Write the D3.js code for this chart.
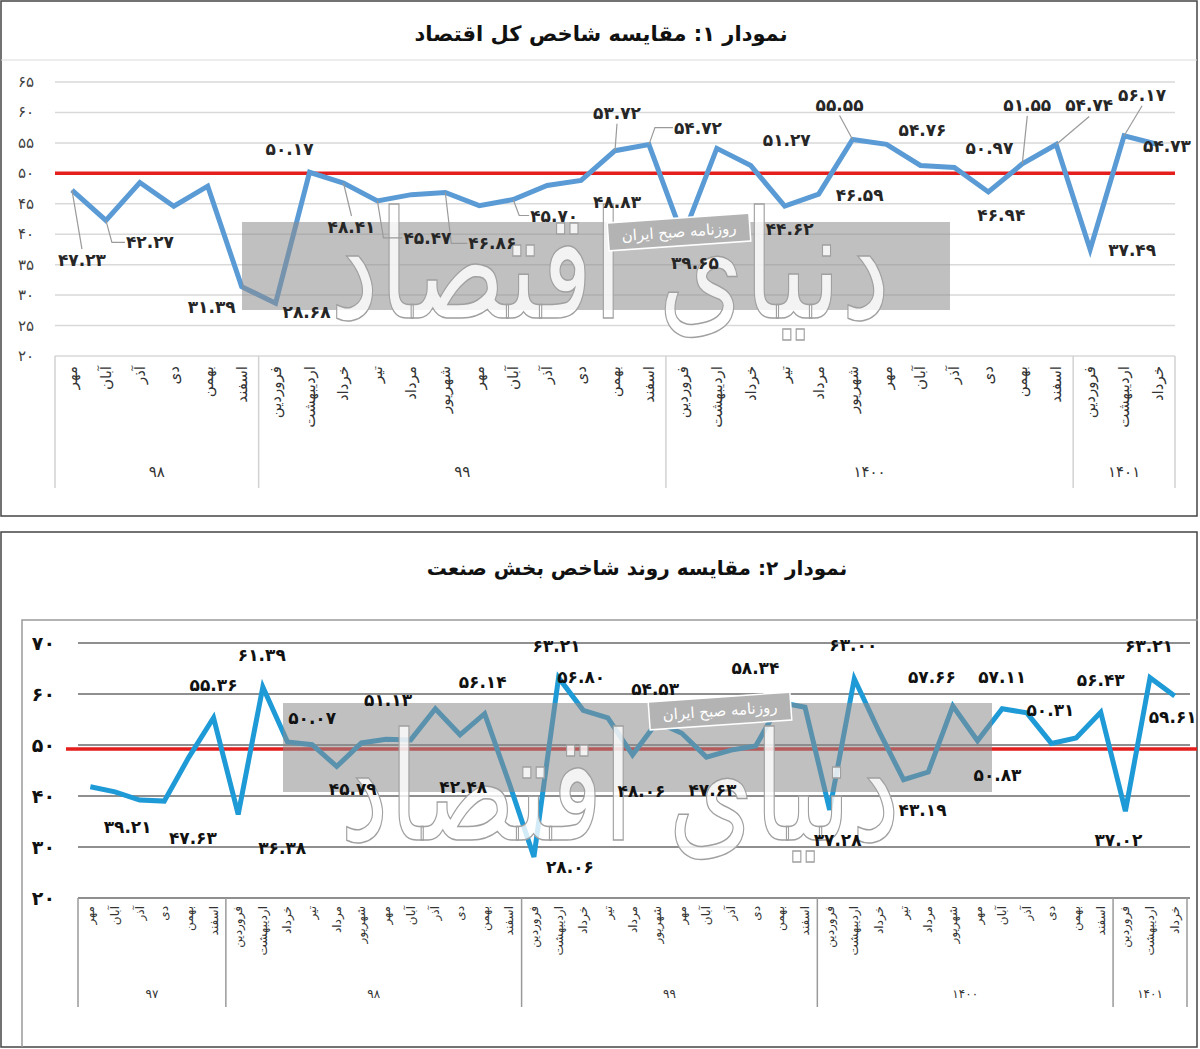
<!DOCTYPE html>
<html>
<head>
<meta charset="utf-8">
<script src="https://cdn.jsdelivr.net/npm/d3@7"></script>
<style>
  body { margin: 0; background: #fff; }
  svg text { font-family: "DejaVu Sans", sans-serif; }
</style>
</head>
<body>
<svg id="chart" width="1200" height="1049"></svg>
<script>
// month names used on the category axis
var monthsAutumnWinter = ['مهر', 'آبان', 'آذر', 'دی', 'بهمن', 'اسفند'];
var monthsFullYear = ['فروردین', 'اردیبهشت', 'خرداد', 'تیر', 'مرداد', 'شهریور', 'مهر', 'آبان', 'آذر', 'دی', 'بهمن', 'اسفند'];
var monthsSpring = ['فروردین', 'اردیبهشت', 'خرداد'];

// chart 1: whole economy PMI
var econTitle = 'نمودار ۱: مقایسه شاخص کل اقتصاد';
var econYears = ['۹۸', '۹۹', '۱۴۰۰', '۱۴۰۱'];
var econYearMonths = [monthsAutumnWinter, monthsFullYear, monthsFullYear, monthsSpring];
var econTicks = [20, 25, 30, 35, 40, 45, 50, 55, 60, 65];
var econValues = [47.23, 42.27, 48.5, 44.6, 47.9, 31.39,
  28.68, 50.17, 48.41, 45.47, 46.5, 46.86, 44.7, 45.70, 48.0, 48.83, 53.72, 54.72,
  39.65, 54.1, 51.27, 44.62, 46.59, 55.55, 54.76, 51.3, 50.97, 46.94, 51.55, 54.74,
  37.49, 56.17, 54.73];

// chart 2: industry PMI
var industryTitle = 'نمودار ۲: مقایسه روند شاخص بخش صنعت';
var industryYears = ['۹۷', '۹۸', '۹۹', '۱۴۰۰', '۱۴۰۱'];
var industryYearMonths = [monthsAutumnWinter, monthsFullYear, monthsFullYear, monthsFullYear, monthsSpring];
var industryTicks = [20, 30, 40, 50, 60, 70];
var industryValues = [41.8, 40.8, 39.21, 39.0, 47.63, 55.36,
  36.38, 61.39, 50.6, 50.07, 45.79, 50.4, 51.13, 51.0, 57.1, 52.0, 56.14, 42.48,
  28.06, 63.21, 56.80, 55.3, 48.06, 54.53, 52.3, 47.63, 49.0, 49.8, 58.34, 57.4,
  37.28, 63.00, 52.7, 43.19, 44.7, 57.66, 50.83, 57.11, 56.3, 50.31, 51.4, 56.43,
  37.02, 63.21, 59.61];

var threshold = 50;
var watermarkText = 'دنیای اقتصاد';
var stampText = 'روزنامه صبح ایران';

// which points carry a value label: [index, dx, dy, leader] (leader: 0 none, 1 straight, 2 elbow)
var econLabels = [[0, 10, 70, 1], [1, 44, 22, 2], [5, -30, 20, 0], [6, 31, 9, 0], [7, -20, -23, 0],
  [8, 8, 44, 1], [9, 50, 37, 2], [11, 47, 51, 2], [13, 41, 16, 2], [15, 36, 22, 0], [16, 2, -38, 1],
  [17, 49, -17, 2], [18, 12, 27, 0], [20, 36, -26, 0], [21, 5, 23, 0], [22, 41, 1, 0], [23, -13, -35, 1],
  [24, 36, -14, 0], [26, 35, -19, 0], [27, 13, 23, 0], [28, 5, -59, 1], [29, 33, -39, 1], [30, 42, 0, 0],
  [31, 18, -41, 1], [32, 9, 1, 0]];
var industryLabels = [[2, -12, 27], [4, 4, 81], [5, 0, -33], [6, 44, 34], [7, -1, -32], [9, 0, -27],
  [10, 16, 23], [12, 2, -39], [16, -2, -32], [17, -46, 4], [18, 36, 10], [19, -2, -32], [20, -2, -33],
  [22, 9, 36], [23, -2, -33], [25, 6, 33], [28, -25, -34], [30, 8, 30], [31, -1, -34], [33, 19, 30],
  [35, -21, -29], [36, 20, 34], [37, 0, -32], [39, -1, -33], [41, 0, -32], [42, -7, 29], [43, -1, -32],
  [44, -2, 21]];

function toFa(s) {
  return String(s).replace(/\d/g, function (d) { return '۰۱۲۳۴۵۶۷۸۹'[+d]; });
}

var svg = d3.select('#chart');

function drawChart(g, o) {
  var cats = [];
  o.yearMonths.forEach(function (ms, gi) {
    ms.forEach(function (m) { cats.push({month: m, group: gi}); });
  });
  var x = d3.scaleBand().domain(d3.range(cats.length)).range([o.left, o.right]);
  var y = d3.scaleLinear().domain([o.ticks[0], o.ticks[o.ticks.length - 1]]).range([o.bottom, o.top]);
  var cx = function (i) { return x(i) + x.bandwidth() / 2; };

  // horizontal gridlines
  g.selectAll('.grid').data(o.ticks).enter().append('line')
      .attr('x1', o.left).attr('x2', o.gridRight || o.right)
      .attr('y1', y).attr('y2', y)
      .attr('stroke', o.gridColor).attr('stroke-width', o.gridWidth);

  // y tick labels
  g.selectAll('.ytick').data(o.ticks).enter().append('text')
      .attr('x', o.yLabelX).attr('y', y)
      .attr('text-anchor', 'end').attr('dominant-baseline', 'central')
      .attr('font-size', o.yFont).attr('font-weight', o.yWeight).attr('fill', o.yColor)
      .text(function (d) { return toFa(d); });

  // category table below the plot
  var starts = [0];
  o.yearMonths.forEach(function (ms, i) { starts.push(starts[i] + ms.length); });
  g.selectAll('.sep').data(starts).enter().append('line')
      .attr('x1', function (d) { return d < cats.length ? x(d) : o.right; })
      .attr('x2', function (d) { return d < cats.length ? x(d) : o.right; })
      .attr('y1', y(o.ticks[0])).attr('y2', o.tableBottom)
      .attr('stroke', o.tableColor).attr('stroke-width', 1.5);

  g.selectAll('.cat').data(cats).enter().append('text')
      .attr('transform', function (d, i) { return 'translate(' + cx(i) + ',' + o.catTop + ') rotate(-90)'; })
      .attr('text-anchor', 'end').attr('dominant-baseline', 'central')
      .attr('font-size', o.catFont).attr('fill', '#333')
      .text(function (d) { return d.month; });

  g.selectAll('.year').data(o.years).enter().append('text')
      .attr('x', function (d, i) {
        var a = x(starts[i]), b = starts[i + 1] < cats.length ? x(starts[i + 1]) : o.right;
        return (a + b) / 2;
      })
      .attr('y', o.yearY).attr('text-anchor', 'middle').attr('dominant-baseline', 'central')
      .attr('font-size', o.catFont).attr('fill', '#333')
      .text(function (d) { return d; });

  // 50 threshold
  g.append('line')
      .attr('x1', o.redLeft).attr('x2', o.redRight)
      .attr('y1', y(threshold) + o.redShift).attr('y2', y(threshold) + o.redShift)
      .attr('stroke', '#e41d1d').attr('stroke-width', 3.5);

  // series line
  g.append('path').datum(o.values)
      .attr('fill', 'none').attr('stroke', o.lineColor).attr('stroke-width', 5)
      .attr('stroke-linejoin', 'miter')
      .attr('d', d3.line().x(function (d, i) { return cx(i); }).y(function (d) { return y(d); }));

  // newspaper watermark
  var wm = o.watermark;
  g.append('rect').attr('x', wm.x).attr('y', wm.y).attr('width', wm.w).attr('height', wm.h)
      .attr('fill', '#8c8c8c').attr('opacity', 0.55);
  g.append('text').attr('x', wm.tx).attr('y', wm.ty)
      .attr('text-anchor', 'middle').attr('font-size', 150)
      .attr('textLength', wm.tw).attr('lengthAdjust', 'spacingAndGlyphs')
      .attr('fill', '#fff').attr('fill-opacity', 0.8)
      .attr('stroke', '#a0a0a0').attr('stroke-width', 1.5)
      .text(watermarkText);
  var st = g.append('g').attr('transform', 'translate(' + wm.sx + ',' + wm.sy + ') rotate(-4)');
  st.append('rect').attr('x', -71).attr('y', -14).attr('width', 142).attr('height', 28)
      .attr('fill', '#b3b3b3').attr('stroke', '#fff').attr('stroke-width', 1.5);
  st.append('text').attr('text-anchor', 'middle').attr('dominant-baseline', 'central')
      .attr('font-size', 15).attr('fill', '#fff').text(stampText);

  // value labels
  var lab = o.labels.map(function (l) {
    var px = cx(l[0]), py = y(o.values[l[0]]);
    return {i: l[0], px: px, py: py, lx: px + l[1], ly: py + l[2], dx: l[1], dy: l[2], leader: l[3] || 0};
  });
  g.selectAll('.leader').data(lab.filter(function (d) { return d.leader; })).enter().append('polyline')
      .attr('fill', 'none').attr('stroke', '#9a9a9a').attr('stroke-width', 1.2)
      .attr('points', function (d) {
        var s = d.dy > 0 ? 1 : -1;
        if (d.leader === 2) {
          var h = d.dx > 0 ? 1 : -1;
          return [[d.px, d.py], [d.px + h * 6, d.ly], [d.lx - h * 25, d.ly]].join(' ');
        }
        return [[d.px, d.py], [d.lx, d.ly - s * 11]].join(' ');
      });
  g.selectAll('.vlabel').data(lab).enter().append('text')
      .attr('x', function (d) { return d.lx; }).attr('y', function (d) { return d.ly; })
      .attr('text-anchor', 'middle').attr('dominant-baseline', 'central')
      .attr('font-size', o.labelFont).attr('font-weight', 'bold').attr('fill', o.labelColor)
      .text(function (d) { return toFa(d3.format('.2f')(o.values[d.i])); });
}

// ---- panel 1 ----
var p1 = svg.append('g');
p1.append('rect').attr('x', 1).attr('y', 1).attr('width', 1196).attr('height', 515)
    .attr('fill', 'none').attr('stroke', '#444').attr('stroke-width', 1.5);
p1.append('line').attr('x1', 1).attr('x2', 1197).attr('y1', 60).attr('y2', 60)
    .attr('stroke', '#dcdcdc').attr('stroke-width', 1.2);
p1.append('text').attr('x', 601).attr('y', 34).attr('text-anchor', 'middle')
    .attr('dominant-baseline', 'central').attr('font-size', 21).attr('font-weight', 'bold')
    .attr('fill', '#111').text(econTitle);
drawChart(p1, {
  values: econValues, years: econYears, yearMonths: econYearMonths, ticks: econTicks, labels: econLabels,
  left: 55, right: 1175, top: 82, bottom: 356,
  gridColor: '#d9d9d9', gridWidth: 1.5,
  yLabelX: 34, yFont: 15, yWeight: 'normal', yColor: '#404040',
  tableBottom: 488, tableColor: '#d2d2d2', catTop: 366, catFont: 15, yearY: 472,
  redLeft: 55, redRight: 1175, redShift: 0,
  lineColor: '#5b9bd5', labelFont: 17, labelColor: '#262626',
  watermark: {x: 242, y: 222, w: 708, h: 88, tx: 610, ty: 318, tw: 560, sx: 679, sy: 232}
});

// ---- panel 2 ----
var p2 = svg.append('g');
p2.append('rect').attr('x', 1).attr('y', 532).attr('width', 1196).attr('height', 515)
    .attr('fill', 'none').attr('stroke', '#444').attr('stroke-width', 1.5);
p2.append('path').attr('d', 'M22,1047V620H1198')
    .attr('fill', 'none').attr('stroke', '#9a9a9a').attr('stroke-width', 1.5);
p2.append('text').attr('x', 637).attr('y', 568).attr('text-anchor', 'middle')
    .attr('dominant-baseline', 'central').attr('font-size', 20).attr('font-weight', 'bold')
    .attr('fill', '#111').text(industryTitle);
drawChart(p2, {
  values: industryValues, years: industryYears, yearMonths: industryYearMonths, ticks: industryTicks,
  labels: industryLabels,
  left: 78, right: 1187, gridRight: 1190, top: 643, bottom: 898,
  gridColor: '#8f8f8f', gridWidth: 2,
  yLabelX: 55, yFont: 19, yWeight: 'bold', yColor: '#111',
  tableBottom: 1007, tableColor: '#9a9a9a', catTop: 906, catFont: 12, yearY: 994,
  redLeft: 66, redRight: 1197, redShift: 4,
  lineColor: '#1e9ad6', labelFont: 17, labelColor: '#111',
  watermark: {x: 283, y: 703, w: 709, h: 89, tx: 620, ty: 840, tw: 560, sx: 720, sy: 711}
});
</script>
</body>
</html>
